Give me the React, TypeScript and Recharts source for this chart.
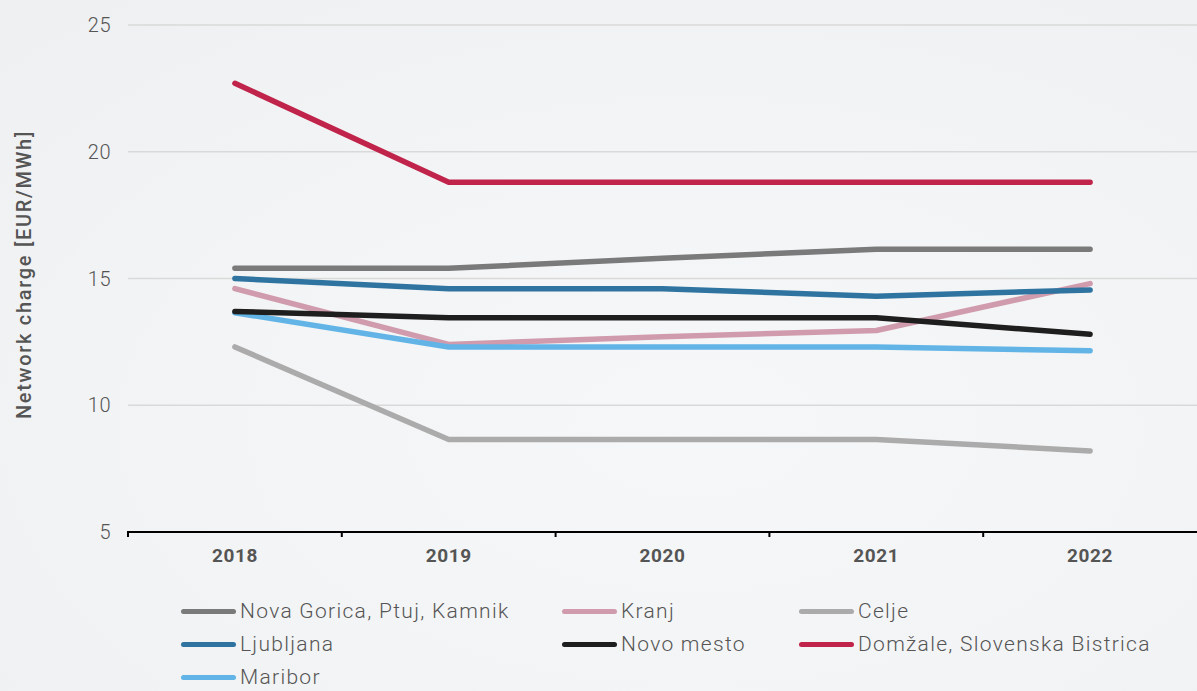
import React from "react";
import { LineChart, Line, XAxis, YAxis, CartesianGrid, Label } from "recharts";

const years = ["2018", "2019", "2020", "2021", "2022"];
const novaGorica = [15.4, 15.4, 15.8, 16.15, 16.15];
const kranj = [14.6, 12.4, 12.7, 12.95, 14.8];
const celje = [12.3, 8.65, 8.65, 8.65, 8.2];
const ljubljana = [15.0, 14.6, 14.6, 14.3, 14.55];
const novoMesto = [13.7, 13.45, 13.45, 13.45, 12.8];
const domzale = [22.7, 18.8, 18.8, 18.8, 18.8];
const maribor = [13.65, 12.3, 12.3, 12.3, 12.15];
const yTicks = [5, 10, 15, 20, 25];

const series = [
  { key: "celje", name: "Celje", values: celje, color: "#ababab" },
  { key: "kranj", name: "Kranj", values: kranj, color: "#d09cad" },
  { key: "maribor", name: "Maribor", values: maribor, color: "#62b4e7" },
  { key: "ljubljana", name: "Ljubljana", values: ljubljana, color: "#2f74a0" },
  { key: "novoMesto", name: "Novo mesto", values: novoMesto, color: "#1e1e1e" },
  { key: "novaGorica", name: "Nova Gorica, Ptuj, Kamnik", values: novaGorica, color: "#7a7a7a" },
  { key: "domzale", name: "Domžale, Slovenska Bistrica", values: domzale, color: "#c0244a" },
];

const legendOrder = [
  ["novaGorica", "kranj", "celje"],
  ["ljubljana", "novoMesto", "domzale"],
  ["maribor"],
];

const data = years.map((y, i) => {
  const row: Record<string, any> = { year: y };
  series.forEach((s) => (row[s.key] = s.values[i]));
  return row;
});

const W = 1197;
const H = 691;
const M = { top: 25, right: 0, bottom: 129, left: 0 };
const Y_W = 128;
const halfBand = (W - Y_W - M.right) / years.length / 2;

const FONT = "Roboto, 'DejaVu Sans', sans-serif";

const XTick = (props: any) => {
  const { x, y, payload } = props;
  return (
    <g>
      <line x1={x - halfBand} x2={x - halfBand} y1={y - 9} y2={y - 3} stroke="#000" strokeWidth={2} />
      <text x={x} y={y + 22} textAnchor="middle" fill="#555" fontSize={19} fontWeight={700} fontFamily={FONT} letterSpacing={0.6}>
        {payload.value}
      </text>
    </g>
  );
};

const colX = [181, 562, 799];
const rowY = [611, 644, 677];

export default function App() {
  return (
    <div
      style={{
        position: "absolute",
        left: 0,
        top: 0,
        width: W,
        height: H,
        overflow: "hidden",
        background:
          "radial-gradient(ellipse 90% 90% at 58% 62%, #f6f7f8 0%, #f3f4f5 45%, #eeeff0 100%)",
        fontFamily: FONT,
      }}
    >
      <LineChart width={W} height={H} data={data} margin={M}>
        <CartesianGrid vertical={false} stroke="#d9d9d9" strokeWidth={1.5} />
        <XAxis
          dataKey="year"
          scale="band"
          axisLine={{ stroke: "#000", strokeWidth: 2 }}
          tickLine={false}
          tick={<XTick />}
          height={30}
          interval={0}
        />
        <YAxis
          domain={[5, 25]}
          ticks={yTicks}
          width={Y_W}
          axisLine={false}
          tickLine={false}
          tickMargin={11}
          tick={{ fill: "#555", fontSize: 20, fontWeight: 300, fontFamily: FONT, letterSpacing: 0.5 }}
        >
          <Label
            content={(p: any) => {
              const vb = p.viewBox;
              const cy = vb.y + vb.height / 2 - 4;
              return (
                <text
                  x={24}
                  y={cy}
                  transform={`rotate(-90, 24, ${cy})`}
                  textAnchor="middle"
                  dominantBaseline="central"
                  fill="#555"
                  fontSize={20}
                  fontWeight={500}
                  fontFamily={FONT}
                  letterSpacing={1.7}
                >
                  Network charge [EUR/MWh]
                </text>
              );
            }}
          />
        </YAxis>
        {series.map((s) => (
          <Line
            key={s.key}
            dataKey={s.key}
            name={s.name}
            type="linear"
            stroke={s.color}
            strokeWidth={5.5}
            strokeLinecap="round"
            strokeLinejoin="round"
            dot={false}
            activeDot={false}
            isAnimationActive={false}
          />
        ))}
      </LineChart>
      {legendOrder.map((row, ri) =>
        row.map((k, ci) => {
          const s = series.find((z) => z.key === k)!;
          return (
            <div
              key={k}
              style={{
                position: "absolute",
                left: colX[ci],
                top: rowY[ri] - 14,
                height: 28,
                display: "flex",
                alignItems: "center",
                whiteSpace: "nowrap",
              }}
            >
              <div style={{ width: 55, height: 5, borderRadius: 3, background: s.color, marginRight: 4 }} />
              <span style={{ fontSize: 21, fontWeight: 300, color: "#555", fontFamily: FONT, letterSpacing: 1.3 }}>{s.name}</span>
            </div>
          );
        })
      )}
    </div>
  );
}
